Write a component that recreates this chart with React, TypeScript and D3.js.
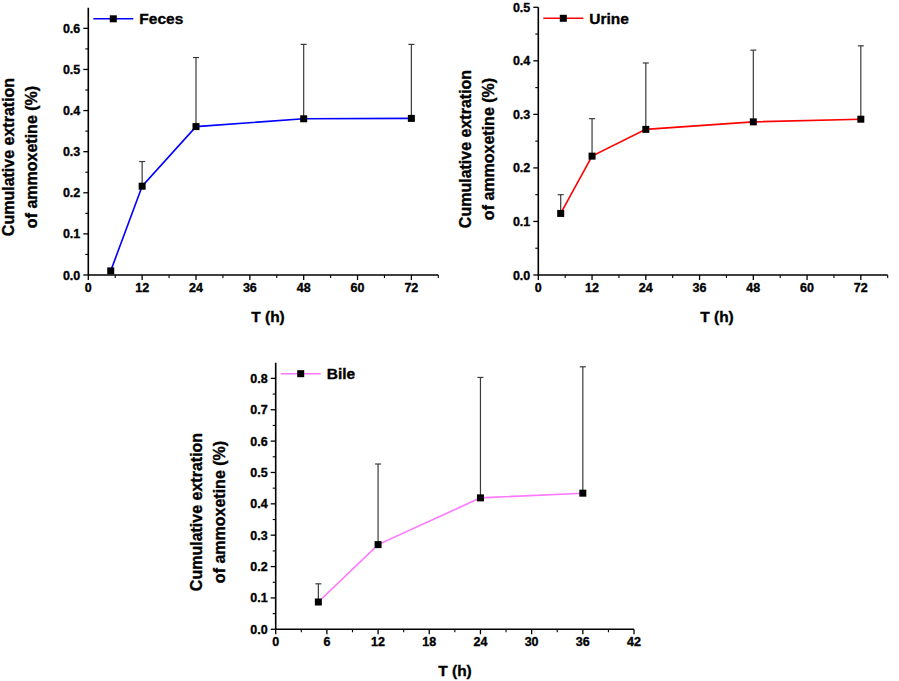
import React from 'react';
import * as d3 from 'd3';

// sampling times (h)
const fecesTime = [5, 12, 24, 48, 72];
const fecesMean = [0.01, 0.216, 0.361, 0.38, 0.381];
const fecesSd = [0, 0.06, 0.168, 0.181, 0.18];

const urineTime = [5, 12, 24, 48, 72];
const urineMean = [0.115, 0.222, 0.272, 0.286, 0.291];
const urineSd = [0.035, 0.07, 0.124, 0.134, 0.137];

const bileTime = [5, 12, 24, 36];
const bileMean = [0.087, 0.27, 0.419, 0.434];
const bileSd = [0.058, 0.257, 0.384, 0.403];

const longTicks = [0, 12, 24, 36, 48, 60, 72];
const bileXTicks = [0, 6, 12, 18, 24, 30, 36, 42];

const FONT = "'Liberation Sans', Arial, sans-serif";

interface PanelProps {
  left: number;
  right: number;
  top: number;
  bottom: number;
  xMax: number;
  xTicks: number[];
  xMinorStep: number;
  yMax: number;
  yTickMax: number;
  time: number[];
  mean: number[];
  sd: number[];
  color: string;
  name: string;
  labelX: number;
  labelY: number;
  titleX: number;
  titleY: number;
}

const Panel = (p: PanelProps) => {
  const x = d3.scaleLinear().domain([0, p.xMax]).range([p.left, p.right]);
  const y = d3.scaleLinear().domain([0, p.yMax]).range([p.bottom, p.top]);

  const yMajor = d3.range(0, p.yTickMax + 0.0001, 0.1);
  const yMinor = d3.range(0.05, p.yMax - 0.001, 0.1);
  const xMinor = d3.range(p.xMinorStep, p.xMax + 0.001, p.xMinorStep * 2);

  const pts = p.time.map((t, i) => [t, p.mean[i]] as [number, number]);
  const line = d3.line<[number, number]>()
    .x(d => x(d[0]))
    .y(d => y(d[1]));

  // legend sits in the top left corner of the plot
  const legY = p.top + 11;
  const legX0 = p.left + 5;
  const legX1 = legX0 + 40;

  // heavier bold, like the original figure
  const heavy = { stroke: '#000', strokeWidth: 0.35 };

  return (
    <g>
      <path d={line(pts) ?? ''} fill="none" stroke={p.color} strokeWidth={1.6} />

      {p.time.map((t, i) => p.sd[i] > 0 && (
        <g key={'e' + i} stroke="#3a3a3a" strokeWidth={1.2}>
          <line x1={x(t)} x2={x(t)} y1={y(p.mean[i])} y2={y(p.mean[i] + p.sd[i])} />
          <line x1={x(t) - 3} x2={x(t) + 3} y1={y(p.mean[i] + p.sd[i])} y2={y(p.mean[i] + p.sd[i])} />
        </g>
      ))}

      {p.time.map((t, i) => (
        <rect key={'m' + i} x={x(t) - 3.5} y={y(p.mean[i]) - 3.5} width={7} height={7} fill="#000" />
      ))}

      {/* axes */}
      <line x1={p.left} x2={p.left} y1={p.top} y2={p.bottom} stroke="#000" strokeWidth={1.6} />
      <line x1={p.left} x2={p.right} y1={p.bottom} y2={p.bottom} stroke="#000" strokeWidth={1.6} />

      {yMajor.map(v => (
        <g key={'ym' + v}>
          <line x1={p.left - 5} x2={p.left} y1={y(v)} y2={y(v)} stroke="#000" strokeWidth={1.3} />
          <text x={p.left - 8} y={y(v)} dy="0.36em" textAnchor="end" fontSize={12.5} fontWeight="bold" fontFamily={FONT} {...heavy}>
            {v.toFixed(1)}
          </text>
        </g>
      ))}
      {yMinor.map(v => (
        <line key={'yn' + v} x1={p.left - 3} x2={p.left} y1={y(v)} y2={y(v)} stroke="#000" strokeWidth={1.1} />
      ))}

      {p.xTicks.map(v => (
        <g key={'xm' + v}>
          <line x1={x(v)} x2={x(v)} y1={p.bottom} y2={p.bottom + 5} stroke="#000" strokeWidth={1.3} />
          <text x={x(v)} y={p.bottom + 17} textAnchor="middle" fontSize={12.5} fontWeight="bold" fontFamily={FONT} {...heavy}>
            {v}
          </text>
        </g>
      ))}
      {xMinor.map(v => (
        <line key={'xn' + v} x1={x(v)} x2={x(v)} y1={p.bottom} y2={p.bottom + 3} stroke="#000" strokeWidth={1.1} />
      ))}

      {/* legend */}
      <line x1={legX0} x2={legX1} y1={legY} y2={legY} stroke={p.color} strokeWidth={1.5} />
      <rect x={(legX0 + legX1) / 2 - 3.5} y={legY - 3.5} width={7} height={7} fill="#000" />
      <text x={legX1 + 6} y={legY} dy="0.36em" fontSize={15.5} fontWeight="bold" fontFamily={FONT} {...heavy}>
        {p.name}
      </text>

      {/* axis titles */}
      <text x={p.titleX} y={p.titleY} textAnchor="middle" fontSize={15.5} fontWeight="bold" fontFamily={FONT} {...heavy}>
        T (h)
      </text>
      <g transform={`translate(${p.labelX},${p.labelY}) rotate(-90)`} fontSize={16} fontWeight="bold" fontFamily={FONT} {...heavy}>
        <text x={0} y={0} dy="0.35em" textAnchor="middle">Cumulative extration</text>
        <text x={0} y={23} dy="0.35em" textAnchor="middle">of ammoxetine (%)</text>
      </g>
    </g>
  );
};

export default function App() {
  return (
    <svg width={899} height={681} style={{ position: 'absolute', left: 0, top: 0, background: '#fff' }}>
      <Panel
        left={88.3} right={438.3} top={7.8} bottom={275}
        xMax={78} xTicks={longTicks} xMinorStep={6}
        yMax={0.65} yTickMax={0.6}
        time={fecesTime} mean={fecesMean} sd={fecesSd}
        color="#0000ff" name="Feces"
        labelX={8} labelY={157} titleX={268} titleY={322}
      />
      <Panel
        left={538.3} right={887.7} top={7.3} bottom={275}
        xMax={78} xTicks={longTicks} xMinorStep={6}
        yMax={0.5} yTickMax={0.5}
        time={urineTime} mean={urineMean} sd={urineSd}
        color="#ff0000" name="Urine"
        labelX={465} labelY={149} titleX={717} titleY={322}
      />
      <Panel
        left={275.7} right={634} top={362.7} bottom={629.3}
        xMax={42} xTicks={bileXTicks} xMinorStep={3}
        yMax={0.85} yTickMax={0.8}
        time={bileTime} mean={bileMean} sd={bileSd}
        color="#ff77ff" name="Bile"
        labelX={196} labelY={512} titleX={455} titleY={676}
      />
    </svg>
  );
}
